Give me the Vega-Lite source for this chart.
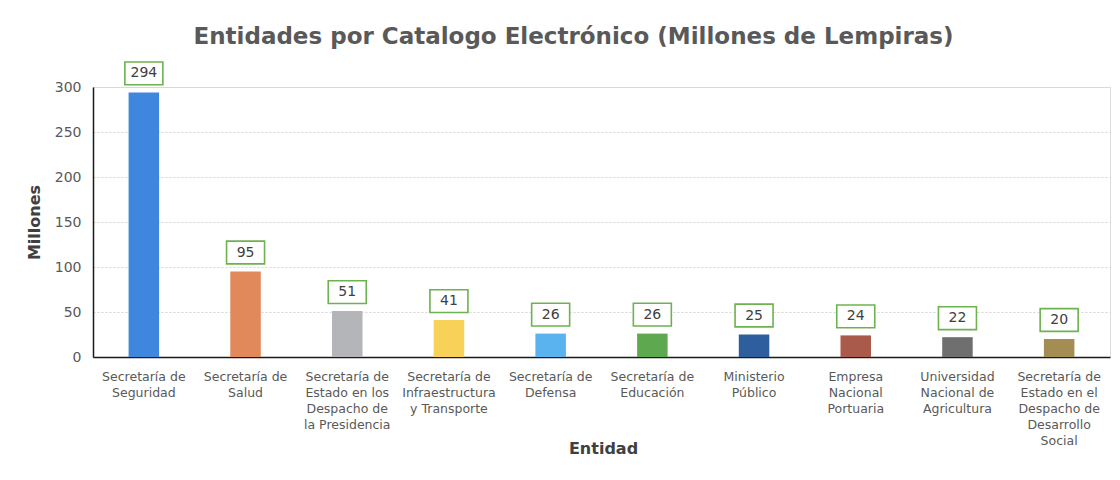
{
  "$schema": "https://vega.github.io/schema/vega-lite/v6.json",
  "width": 1017,
  "height": 270,
  "autosize": {"type": "none"},
  "padding": {"left": 93, "top": 87, "right": 10, "bottom": 123},
  "background": "white",
  "title": {
    "text": "Entidades por Catalogo Electrónico (Millones de Lempiras)",
    "font": "DejaVu Sans",
    "fontSize": 23,
    "fontWeight": "bold",
    "color": "#595959",
    "anchor": "middle",
    "dx": -28,
    "offset": 10
  },
  "data": {
    "values": [
      {"entidad": "Secretaría de|Seguridad", "monto": 294, "color": "#3f86df"},
      {"entidad": "Secretaría de|Salud", "monto": 95, "color": "#e2895b"},
      {"entidad": "Secretaría de|Estado en los|Despacho de|la Presidencia", "monto": 51, "color": "#b3b5b8"},
      {"entidad": "Secretaría de|Infraestructura|y Transporte", "monto": 41, "color": "#f7d158"},
      {"entidad": "Secretaría de|Defensa", "monto": 26, "color": "#5ab2ee"},
      {"entidad": "Secretaría de|Educación", "monto": 26, "color": "#5ea94f"},
      {"entidad": "Ministerio|Público", "monto": 25, "color": "#2f5e9e"},
      {"entidad": "Empresa|Nacional|Portuaria", "monto": 24, "color": "#a95a4a"},
      {"entidad": "Universidad|Nacional de|Agricultura", "monto": 22, "color": "#6f6f6f"},
      {"entidad": "Secretaría de|Estado en el|Despacho de|Desarrollo|Social", "monto": 20, "color": "#a48d52"}
    ]
  },
  "encoding": {
    "x": {
      "field": "entidad",
      "type": "nominal",
      "sort": null,
      "scale": {"paddingInner": 0.7, "paddingOuter": 0.35},
      "axis": {
        "title": "Entidad",
        "titleFont": "DejaVu Sans",
        "titleFontSize": 16,
        "titleFontWeight": "bold",
        "titleColor": "#404040",
        "titleX": 510,
        "titleY": 83,
        "titleBaseline": "top",
        "labelExpr": "split(datum.value, '|')",
        "labelAngle": 0,
        "labelFont": "DejaVu Sans",
        "labelFontSize": 12.5,
        "labelColor": "#595959",
        "labelLineHeight": 16,
        "labelPadding": 13,
        "labelBaseline": "top",
        "ticks": false,
        "domainColor": "#1a1a1a",
        "domainWidth": 1.5,
        "grid": false
      }
    },
    "y": {
      "field": "monto",
      "type": "quantitative",
      "scale": {"domain": [0, 300], "nice": false},
      "axis": {
        "title": "Millones",
        "titleFont": "DejaVu Sans",
        "titleFontSize": 16,
        "titleFontWeight": "bold",
        "titleColor": "#404040",
        "titlePadding": 12,
        "values": [0, 50, 100, 150, 200, 250, 300],
        "labelFont": "DejaVu Sans",
        "labelFontSize": 14,
        "labelColor": "#595959",
        "labelPadding": 12,
        "ticks": false,
        "domainColor": "#1a1a1a",
        "domainWidth": 1.5,
        "grid": true,
        "gridColor": "#d4d4d4",
        "gridDash": [2, 2]
      }
    }
  },
  "layer": [
    {
      "mark": {"type": "bar"},
      "encoding": {
        "color": {"field": "color", "type": "nominal", "scale": null}
      }
    },
    {
      "mark": {
        "type": "point",
        "shape": "M-1,-0.6L1,-0.6L1,0.6L-1,0.6Z",
        "size": 1444,
        "filled": false,
        "fill": "white",
        "fillOpacity": 1,
        "stroke": "#6cb24f",
        "strokeWidth": 1.6,
        "opacity": 1,
        "yOffset": -19
      }
    },
    {
      "mark": {
        "type": "text",
        "font": "DejaVu Sans",
        "fontSize": 14,
        "color": "#404040",
        "baseline": "middle",
        "yOffset": -19
      },
      "encoding": {
        "text": {"field": "monto", "type": "quantitative"}
      }
    }
  ]
}
